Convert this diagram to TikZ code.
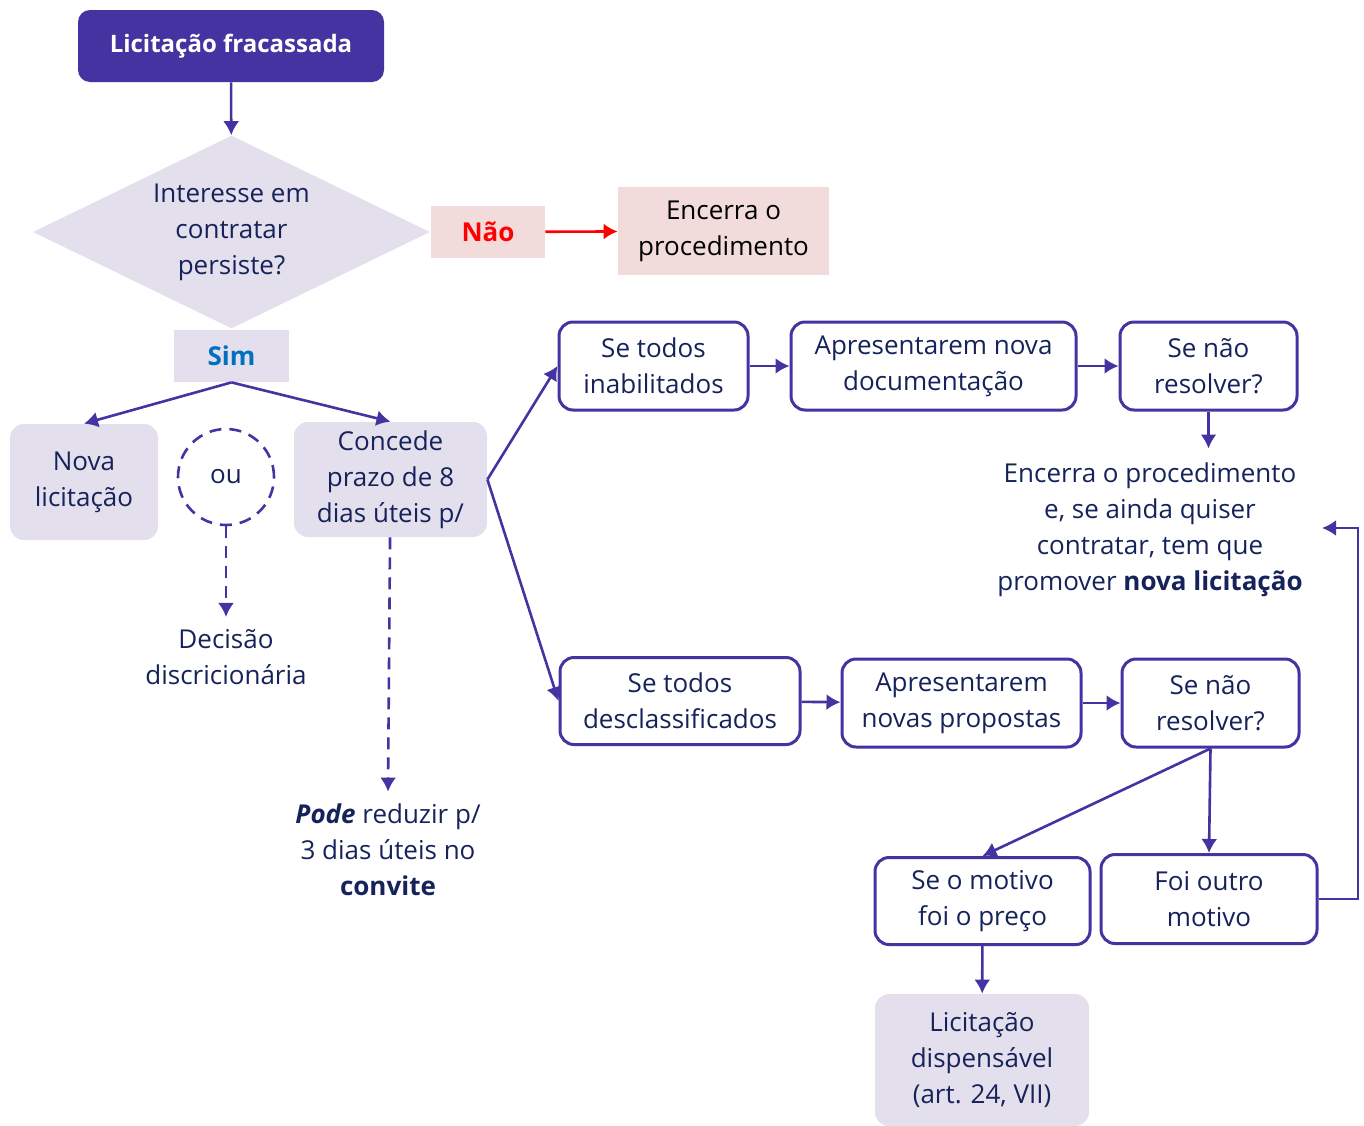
\documentclass[tikz,border=0pt]{standalone}
\usepackage{fontspec}
\setmainfont{Open Sans}
\usetikzlibrary{shapes.geometric}
\usetikzlibrary{arrows.meta}
\usetikzlibrary{calc}

\definecolor{purp}{RGB}{68,51,160}
\definecolor{lav}{RGB}{228,223,236}
\definecolor{pinkbg}{RGB}{242,220,219}
\definecolor{navy}{RGB}{22,35,90}
\definecolor{simblue}{RGB}{0,112,192}

\begin{document}
\begin{tikzpicture}[x=0.5pt,y=-0.5pt,every node/.style={font=\fontsize{13}{18}\selectfont,text=navy,align=center,inner sep=0pt}]
	
	\tikzstyle{lavbox}=[rectangle,rounded corners=7pt,fill=lav]
	\tikzstyle{whitebox}=[rectangle,rounded corners=7pt,draw=purp,line width=1.5pt,fill=white]
	\tikzstyle{pinkbox}=[rectangle,fill=pinkbg]
	\tikzstyle{flow}=[-{Latex[length=7pt,width=8pt]},draw=purp,line width=1.3pt]
	\tikzstyle{dflow}=[flow,dash pattern=on 6pt off 4pt]
	
	\useasboundingbox (0,0) rectangle (1364,1125);
	
	% left part:
	\node [rectangle,rounded corners=6pt,fill=purp,text=white,font=\fontsize{12}{15}\bfseries,minimum width=153pt,minimum height=36pt] at (231,46) (fail) {Licitação fracassada};
	\node [diamond,fill=lav,shape aspect=2,minimum width=198.5pt,minimum height=96.5pt] at (231.5,232) (ask) {Interesse em\\contratar\\persiste?};
	\node [pinkbox,text=red,font=\fontsize{13}{18}\bfseries,minimum width=57pt,minimum height=26pt] at (488,232) (nao) {Não};
	\node [pinkbox,text=black,minimum width=105.5pt,minimum height=44pt] at (723.5,231) (stop) {Encerra o\\procedimento};
	\node [lavbox,rounded corners=0pt,text=simblue,font=\fontsize{13}{18}\bfseries,minimum width=57.5pt,minimum height=26pt] at (231.5,356) (sim) {Sim};
	\node [lavbox,minimum width=74pt,minimum height=58pt] at (84,482) (nova) {Nova\\licitação};
	\node [circle,draw=purp,line width=1.3pt,dash pattern=on 6pt off 4pt,minimum size=48pt] at (226,477) (ou) {ou};
	\node [lavbox,minimum width=96.5pt,minimum height=57.5pt] at (390.5,479.5) (prazo) {Concede\\prazo de 8\\dias úteis p/};
	\node at (226,657) (decide) {Decisão\\discricionária};
	\node at (388,850) (pode) {\textbf{\textit{Pode}} reduzir p/\\3 dias úteis no\\\textbf{convite}};
	
	\draw[flow] (fail) -- (ask);
	\draw[-{Latex[length=7pt,width=8pt]},red,line width=1.3pt] (nao) -- (stop);
	\draw[flow] (sim.south) -- (nova.north);
	\draw[flow] (sim.south) -- (prazo.north);
	\draw[dflow] (ou) -- ($(decide.north)+(0,-12)$);
	\draw[dflow] (prazo) -- ($(pode.north)+(0,-12)$);
	
	% right part:
	\node [whitebox,minimum width=94.5pt,minimum height=44pt] at (653.5,366) (inab) {Se todos\\inabilitados};
	\node [whitebox,minimum width=142.5pt,minimum height=44pt] at (933.5,366) (docs) {Apresentarem nova\\documentação};
	\node [whitebox,minimum width=88.5pt,minimum height=44pt] at (1208.5,366) (naoa) {Se não\\resolver?};
	\node at (1150,530) (again) {Encerra o procedimento\\e, se ainda quiser\\contratar, tem que\\promover \textbf{nova licitação}};
	\node [whitebox,minimum width=120pt,minimum height=43.5pt] at (680,701) (desc) {Se todos\\desclassificados};
	\node [whitebox,minimum width=119.5pt,minimum height=44pt] at (961.5,703) (props) {Apresentarem\\novas propostas};
	\node [whitebox,minimum width=88.5pt,minimum height=44pt] at (1210.5,703) (naob) {Se não\\resolver?};
	\node [whitebox,minimum width=107.5pt,minimum height=43.5pt] at (982.5,901) (preco) {Se o motivo\\foi o preço};
	\node [whitebox,minimum width=108pt,minimum height=44.5pt] at (1209,899) (outro) {Foi outro\\motivo};
	\node [lavbox,minimum width=107pt,minimum height=66pt] at (982,1060) (disp) {Licitação\\dispensável\\(art. 24, VII)};
	\coordinate (loopr) at (1358,528);
	\coordinate (loopin) at (1322,528);
	
	\draw[flow] (prazo.east) -- (inab.west);
	\draw[flow] (prazo.east) -- (desc.west);
	\draw[flow] (inab) -- (docs);
	\draw[flow] (docs) -- (naoa);
	\draw[flow] (naoa.south) -- ($(naoa.south)+(0,37)$);
	\draw[flow] (desc) -- (props);
	\draw[flow] (props) -- (naob);
	\draw[flow] (naob.south) -- (preco.north);
	\draw[flow] (naob.south) -- (outro.north);
	\draw[flow] (preco) -- (disp);
	\draw[flow] (outro.east) -| (loopr) -- (loopin);
	
\end{tikzpicture}
\end{document}
